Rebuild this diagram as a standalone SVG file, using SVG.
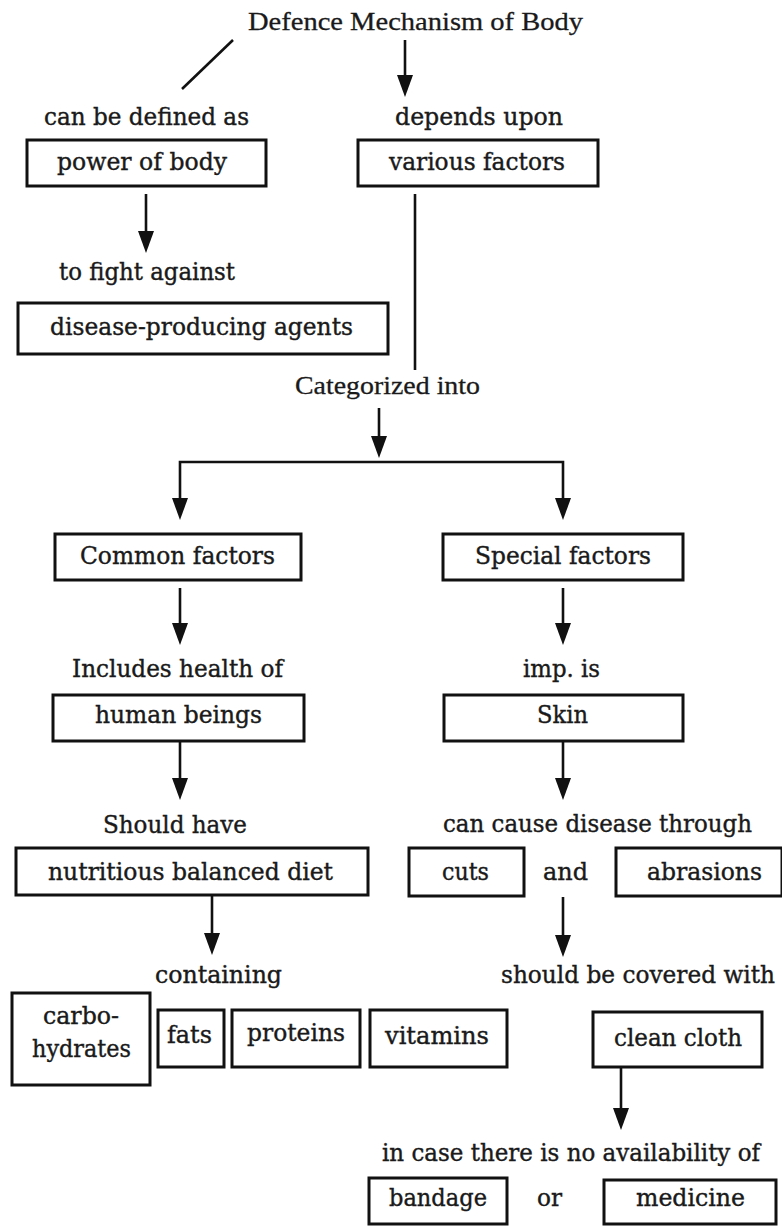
<svg xmlns="http://www.w3.org/2000/svg" width="782" height="1226" viewBox="0 0 782 1226">
  <style>
    .bg { fill: #ffffff; }
    .box { fill: none; stroke: #111111; stroke-width: 3; }
    .lbl { font-family: "DejaVu Serif", "Liberation Serif", serif; font-size: 24px; fill: #1a1a1a; stroke: #1a1a1a; stroke-width: 0.4; }
    .ttl { font-family: "Liberation Serif", "Times New Roman", serif; font-size: 26px; fill: #1a1a1a; stroke: #1a1a1a; stroke-width: 0.3; }
    .wire { fill: none; stroke: #111111; stroke-width: 2.6; }
    .arrow { marker-end: url(#head); }
  </style>
  <defs>
    <marker id="head" markerUnits="userSpaceOnUse" viewBox="0 0 22 16" markerWidth="22" markerHeight="16" refX="10" refY="8" orient="auto">
      <path d="M0,0 L22,8 L0,16 Z" fill="#111111"/>
    </marker>
  </defs>

  <rect class="bg" x="0" y="0" width="782" height="1226"/>

  <!-- connectors -->
  <g id="connectors">
    <path class="wire" d="M233,40 L182,89"/>
    <path class="wire arrow" d="M405,40 V85"/>
    <path class="wire arrow" d="M146,194 V241"/>
    <path class="wire" d="M415,194 V370"/>
    <path class="wire arrow" d="M379,408 V446"/>
    <path class="wire arrow" d="M379,462 H180 V508"/>
    <path class="wire arrow" d="M379,462 H563 V508"/>
    <path class="wire arrow" d="M180,588 V633"/>
    <path class="wire arrow" d="M180,742 V788"/>
    <path class="wire arrow" d="M212,895 V943"/>
    <path class="wire arrow" d="M563,588 V633"/>
    <path class="wire arrow" d="M563,741 V788"/>
    <path class="wire arrow" d="M563,897 V945"/>
    <path class="wire arrow" d="M621,1068 V1118"/>
  </g>

  <!-- root -->
  <g id="root">
    <text class="ttl" x="248" y="30" textLength="335" lengthAdjust="spacingAndGlyphs">Defence Mechanism of Body</text>
  </g>

  <!-- left branch: definition -->
  <g id="defined-as">
    <text class="lbl" x="44" y="125" textLength="205" lengthAdjust="spacingAndGlyphs">can be defined as</text>
  </g>
  <g id="power-of-body">
    <rect class="box" x="27" y="140" width="239" height="46"/>
    <text class="lbl" x="57" y="170" textLength="170" lengthAdjust="spacingAndGlyphs">power of body</text>
  </g>
  <g id="fight-against">
    <text class="lbl" x="59" y="280" textLength="176" lengthAdjust="spacingAndGlyphs">to fight against</text>
  </g>
  <g id="disease-agents">
    <rect class="box" x="18" y="303" width="370" height="51"/>
    <text class="lbl" x="50" y="335" textLength="303" lengthAdjust="spacingAndGlyphs">disease-producing agents</text>
  </g>

  <!-- right branch: factors -->
  <g id="depends-upon">
    <text class="lbl" x="395" y="125" textLength="168" lengthAdjust="spacingAndGlyphs">depends upon</text>
  </g>
  <g id="various-factors">
    <rect class="box" x="358" y="140" width="240" height="46"/>
    <text class="lbl" x="389" y="170" textLength="176" lengthAdjust="spacingAndGlyphs">various factors</text>
  </g>
  <g id="categorized">
    <text class="ttl" x="295" y="394" textLength="185" lengthAdjust="spacingAndGlyphs">Categorized into</text>
  </g>

  <!-- common factors -->
  <g id="common-factors">
    <rect class="box" x="55" y="534" width="246" height="46"/>
    <text class="lbl" x="80" y="564" textLength="195" lengthAdjust="spacingAndGlyphs">Common factors</text>
  </g>
  <g id="includes-health">
    <text class="lbl" x="72" y="677" textLength="211" lengthAdjust="spacingAndGlyphs">Includes health of</text>
  </g>
  <g id="human-beings">
    <rect class="box" x="53" y="695" width="251" height="46"/>
    <text class="lbl" x="95" y="723" textLength="167" lengthAdjust="spacingAndGlyphs">human beings</text>
  </g>
  <g id="should-have">
    <text class="lbl" x="103" y="833" textLength="144" lengthAdjust="spacingAndGlyphs">Should have</text>
  </g>
  <g id="balanced-diet">
    <rect class="box" x="16" y="848" width="352" height="47"/>
    <text class="lbl" x="48" y="880" textLength="285" lengthAdjust="spacingAndGlyphs">nutritious balanced diet</text>
  </g>
  <g id="containing">
    <text class="lbl" x="155" y="983" textLength="127" lengthAdjust="spacingAndGlyphs">containing</text>
  </g>
  <g id="carbohydrates">
    <rect class="box" x="12" y="993" width="138" height="92"/>
    <text class="lbl" x="43" y="1024" textLength="76" lengthAdjust="spacingAndGlyphs">carbo-</text>
    <text class="lbl" x="32" y="1057" textLength="99" lengthAdjust="spacingAndGlyphs">hydrates</text>
  </g>
  <g id="fats">
    <rect class="box" x="158" y="1010" width="66" height="57"/>
    <text class="lbl" x="167" y="1043" textLength="45" lengthAdjust="spacingAndGlyphs">fats</text>
  </g>
  <g id="proteins">
    <rect class="box" x="232" y="1010" width="128" height="57"/>
    <text class="lbl" x="247" y="1041" textLength="98" lengthAdjust="spacingAndGlyphs">proteins</text>
  </g>
  <g id="vitamins">
    <rect class="box" x="370" y="1010" width="137" height="57"/>
    <text class="lbl" x="385" y="1044" textLength="104" lengthAdjust="spacingAndGlyphs">vitamins</text>
  </g>

  <!-- special factors -->
  <g id="special-factors">
    <rect class="box" x="443" y="534" width="240" height="46"/>
    <text class="lbl" x="475" y="564" textLength="176" lengthAdjust="spacingAndGlyphs">Special factors</text>
  </g>
  <g id="imp-is">
    <text class="lbl" x="523" y="677" textLength="77" lengthAdjust="spacingAndGlyphs">imp. is</text>
  </g>
  <g id="skin">
    <rect class="box" x="444" y="695" width="239" height="46"/>
    <text class="lbl" x="537" y="723" textLength="51" lengthAdjust="spacingAndGlyphs">Skin</text>
  </g>
  <g id="cause-disease">
    <text class="lbl" x="443" y="832" textLength="309" lengthAdjust="spacingAndGlyphs">can cause disease through</text>
  </g>
  <g id="cuts">
    <rect class="box" x="409" y="848" width="115" height="48"/>
    <text class="lbl" x="442" y="880" textLength="47" lengthAdjust="spacingAndGlyphs">cuts</text>
  </g>
  <g id="and">
    <text class="lbl" x="543" y="880" textLength="45" lengthAdjust="spacingAndGlyphs">and</text>
  </g>
  <g id="abrasions">
    <rect class="box" x="616" y="848" width="166" height="48"/>
    <text class="lbl" x="647" y="880" textLength="115" lengthAdjust="spacingAndGlyphs">abrasions</text>
  </g>
  <g id="covered-with">
    <text class="lbl" x="501" y="983" textLength="274" lengthAdjust="spacingAndGlyphs">should be covered with</text>
  </g>
  <g id="clean-cloth">
    <rect class="box" x="593" y="1012" width="169" height="55"/>
    <text class="lbl" x="614" y="1046" textLength="128" lengthAdjust="spacingAndGlyphs">clean cloth</text>
  </g>
  <g id="no-availability">
    <text class="lbl" x="382" y="1161" textLength="378" lengthAdjust="spacingAndGlyphs">in case there is no availability of</text>
  </g>
  <g id="bandage">
    <rect class="box" x="369" y="1178" width="138" height="46"/>
    <text class="lbl" x="389" y="1206" textLength="98" lengthAdjust="spacingAndGlyphs">bandage</text>
  </g>
  <g id="or">
    <text class="lbl" x="537" y="1206" textLength="25" lengthAdjust="spacingAndGlyphs">or</text>
  </g>
  <g id="medicine">
    <rect class="box" x="604" y="1180" width="172" height="44"/>
    <text class="lbl" x="636" y="1206" textLength="109" lengthAdjust="spacingAndGlyphs">medicine</text>
  </g>
</svg>
